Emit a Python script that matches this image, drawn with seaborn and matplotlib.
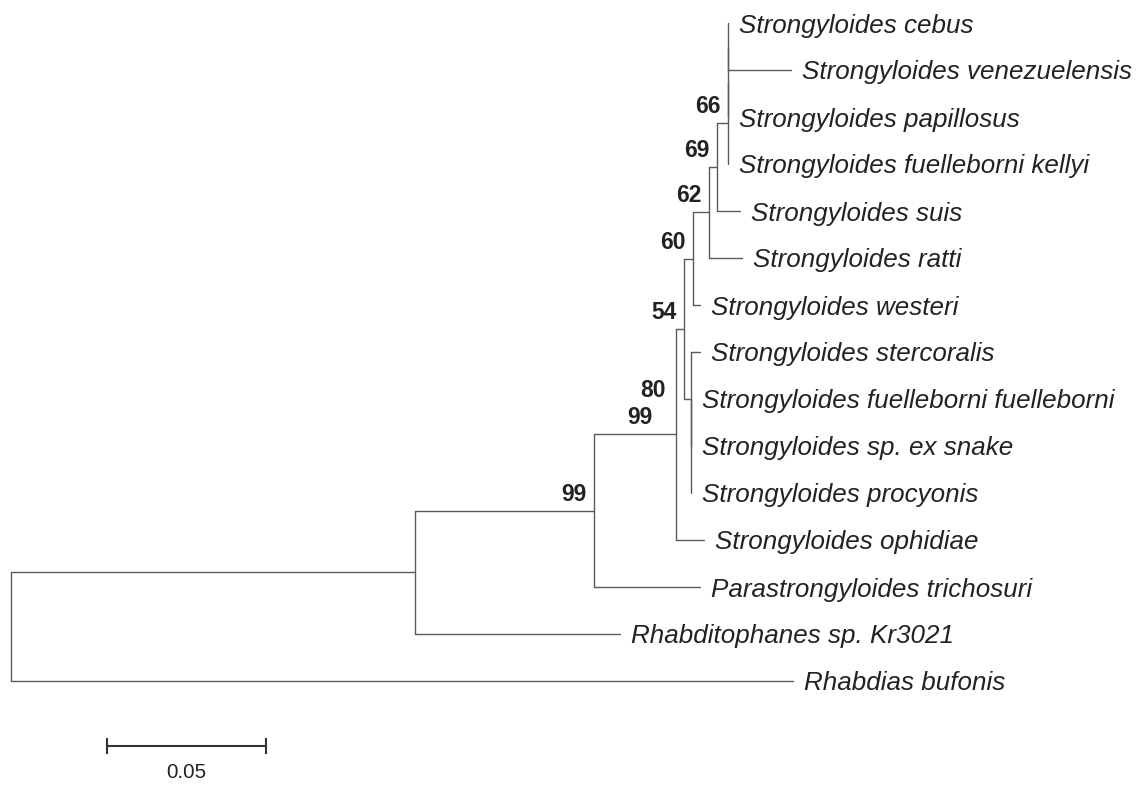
import numpy as np
import pandas as pd
import matplotlib
matplotlib.use("Agg")
import matplotlib.pyplot as plt
import seaborn as sns

# ---------------- data: tree topology, branch lengths, bootstrap support ----------------
node_names = [
    "root", "A", "Rhabdias bufonis",
    "B", "Rhabditophanes sp. Kr3021",
    "C", "Parastrongyloides trichosuri",
    "D", "Strongyloides ophidiae",
    "E", "F",
    "I", "Strongyloides westeri",
    "H", "Strongyloides ratti",
    "G", "Strongyloides suis",
    "G2", "Strongyloides fuelleborni kellyi",
    "G3", "Strongyloides papillosus",
    "Strongyloides cebus", "Strongyloides venezuelensis",
    "Strongyloides stercoralis", "F2",
    "Strongyloides fuelleborni fuelleborni", "Strongyloides sp. ex snake",
    "Strongyloides procyonis",
]
node_parent = [-1, 0, 0, 1, 1, 3, 3, 5, 5, 7, 7, 9, 9, 11, 11, 13, 13,
               15, 15, 17, 17, 19, 19, 10, 10, 24, 24, 24]
branch_length = [0.0, 0.127, 0.2459, 0.0563, 0.0645, 0.0258, 0.0333,
                 0.0025, 0.0088, 0.0028, 0.0022, 0.0050, 0.0022,
                 0.0025, 0.0104, 0.0035, 0.0072, 0.0, 0.0, 0.0, 0.0,
                 0.0, 0.0200, 0.0028, 0.0, 0.0, 0.0, 0.0]
node_support = [None, None, None, 99, None, 99, None, 54, None, 60, 80,
                62, None, 69, None, 66, None, None, None, None, None,
                None, None, None, None, None, None, None]
scale_bar_length = 0.05
scale_bar_label = "0.05"

# ---------------- layout ----------------
n = len(node_names)
children = {i: [] for i in range(n)}
for i, p in enumerate(node_parent):
    if p >= 0:
        children[p].append(i)

xpos = np.zeros(n)
for i in range(n):
    if node_parent[i] >= 0:
        xpos[i] = xpos[node_parent[i]] + branch_length[i]

ypos = np.zeros(n)
tip_counter = [0]


def place(i):
    if not children[i]:
        ypos[i] = tip_counter[0]
        tip_counter[0] += 1
    else:
        for c in children[i]:
            place(c)
        ypos[i] = 0.5 * (ypos[children[i][0]] + ypos[children[i][-1]])


place(0)

segs = []
sid = 0
for i in range(n):
    p = node_parent[i]
    if p >= 0:
        segs += [(sid, xpos[p], ypos[i]), (sid, xpos[i], ypos[i])]
        sid += 1
    if children[i]:
        segs += [(sid, xpos[i], ypos[children[i][0]]),
                 (sid, xpos[i], ypos[children[i][-1]])]
        sid += 1
df = pd.DataFrame(segs, columns=["seg", "x", "y"])

# ---------------- drawing ----------------
sns.set_theme(style="white")
plt.rcParams["font.family"] = ["Liberation Sans", "DejaVu Sans"]

W, H = 1143, 785
fig = plt.figure(figsize=(W / 100, H / 100), dpi=100)
ax = fig.add_axes([0, 0, 1, 1])

PXX = 1 / 3180.0   # data units per pixel (x)
PXY = 1 / 47.0     # tip spacing units per pixel (y)
X0, Y0 = 11, 23
ax.set_xlim(-X0 * PXX, (W - X0) * PXX)
ax.set_ylim((H - Y0) * PXY, -Y0 * PXY)
ax.axis("off")

sns.lineplot(data=df, x="x", y="y", units="seg", estimator=None, sort=False,
             color="#5a5a5a", linewidth=1.0, ax=ax, legend=False)

text_color = "#222222"
for i in range(n):
    if not children[i]:
        ax.text(xpos[i] + 11 * PXX, ypos[i] + 2.5 * PXY, node_names[i],
                fontsize=18.7, style="italic", color=text_color,
                ha="left", va="center")

label_shift = {"C": (-16, 0), "F": (-18, 8)}
for i in range(n):
    if node_support[i] is not None:
        dx, dy = label_shift.get(node_names[i], (0, 0))
        ax.text(xpos[i] + (-7 + dx) * PXX, ypos[i] + (-5 + dy) * PXY,
                str(node_support[i]), fontsize=16.5, fontweight="bold",
                color=text_color, ha="right", va="bottom")

# scale bar
sb_x0 = (107 - X0) * PXX
sb_y = (746 - Y0) * PXY
ax.plot([sb_x0, sb_x0 + scale_bar_length], [sb_y, sb_y], color="#333333",
        lw=1.5, solid_capstyle="butt")
for xx in (sb_x0, sb_x0 + scale_bar_length):
    ax.plot([xx, xx], [sb_y - 8 * PXY, sb_y + 8 * PXY], color="#333333",
            lw=1.5, solid_capstyle="butt")
ax.text(sb_x0 + scale_bar_length / 2, (773 - Y0) * PXY, scale_bar_label,
        fontsize=14.8, color=text_color, ha="center", va="center")

fig.savefig("out.png", dpi=100, facecolor="white")
